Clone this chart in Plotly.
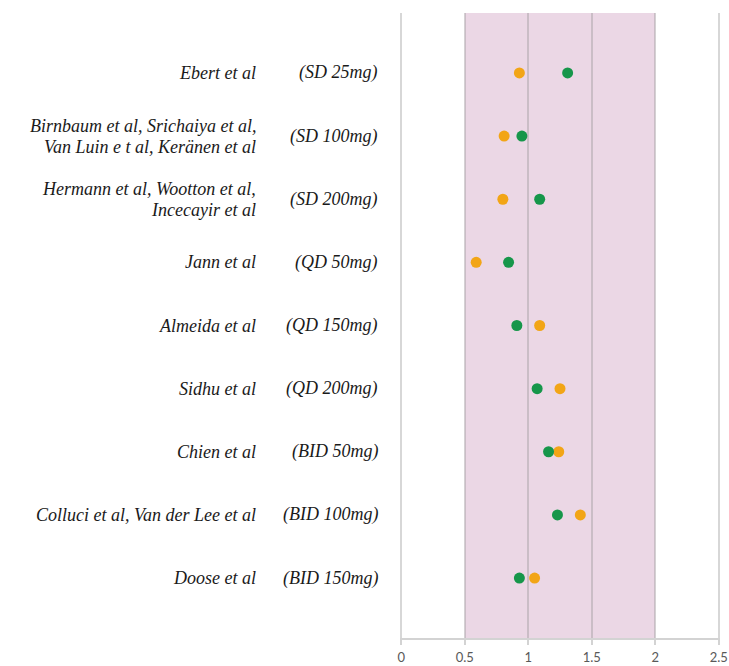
import plotly.graph_objects as go

# Study groups (top to bottom) and their dosing regimens
studies = [
    "Ebert et al",
    "Birnbaum et al, Srichaiya et al,<br>Van Luin e t al, Keränen et al",
    "Hermann et al, Wootton et al,<br>Incecayir et al",
    "Jann et al",
    "Almeida et al",
    "Sidhu et al",
    "Chien et al",
    "Colluci et al, Van der Lee et al",
    "Doose et al",
]
regimens = [
    "(SD 25mg)", "(SD 100mg)", "(SD 200mg)", "(QD 50mg)", "(QD 150mg)",
    "(QD 200mg)", "(BID 50mg)", "(BID 100mg)", "(BID 150mg)",
]

# Ratio values per study group
orange_vals = [0.93, 0.81, 0.80, 0.59, 1.09, 1.25, 1.24, 1.41, 1.05]
green_vals = [1.31, 0.95, 1.09, 0.845, 0.91, 1.07, 1.16, 1.23, 0.93]

# Acceptance band
band_low, band_high = 0.5, 2.0

x_ticks = [0, 0.5, 1, 1.5, 2, 2.5]
x_tick_text = ["0", "0.5", "1", "1.5", "2", "2.5"]

rows = list(range(len(studies)))

ORANGE = "#F2A516"
GREEN = "#16964A"

fig = go.Figure()

fig.add_trace(go.Scatter(
    x=orange_vals, y=rows, mode="markers", name="orange",
    marker=dict(color=ORANGE, size=11, line=dict(width=0)),
))
fig.add_trace(go.Scatter(
    x=green_vals, y=rows, mode="markers", name="green",
    marker=dict(color=GREEN, size=11, line=dict(width=0)),
))

fig.add_shape(
    type="rect", xref="x", yref="paper",
    x0=band_low, x1=band_high, y0=0, y1=1,
    fillcolor="#EBD7E5", line=dict(width=0), layer="below",
)

label_font = dict(family="Liberation Serif", size=18, color="#1A1A1A")
LINE_GAP = 21  # px between stacked label lines
for i, (s, r) in enumerate(zip(studies, regimens)):
    lines = s.split("<br>")
    n = len(lines)
    for k, line in enumerate(lines):
        offset = ((n - 1) / 2 - k) * LINE_GAP
        fig.add_annotation(
            x=0, xref="paper", y=i, yref="y", text=f"<i>{line}</i>",
            xanchor="right", yanchor="middle", align="right",
            xshift=-142, yshift=offset, showarrow=False, font=label_font,
        )
    fig.add_annotation(
        x=0, xref="paper", y=i, yref="y", text=f"<i>{r}</i>",
        xanchor="right", yanchor="middle", align="right",
        xshift=-20, showarrow=False, font=label_font,
    )

fig.update_xaxes(
    range=[-0.01, 2.51],
    tickvals=x_ticks, ticktext=x_tick_text,
    showgrid=True, gridcolor="rgba(140,140,140,0.35)", gridwidth=2,
    zeroline=False, automargin=False,
    showline=True, linecolor="#D3D3D3", linewidth=2,
    ticks="outside", ticklen=5, tickcolor="#D3D3D3", tickwidth=2,
    ticklabelstandoff=1,
    tickfont=dict(family="Lato", size=13, color="#595959"),
)
fig.update_yaxes(
    range=[8.95, -0.95], visible=False, showgrid=False, zeroline=False,
    automargin=False,
)

fig.update_layout(
    width=729, height=666,
    margin=dict(l=400, r=9, t=13, b=28, autoexpand=False),
    paper_bgcolor="white", plot_bgcolor="white",
    showlegend=False,
)

fig.write_html("out.html")
